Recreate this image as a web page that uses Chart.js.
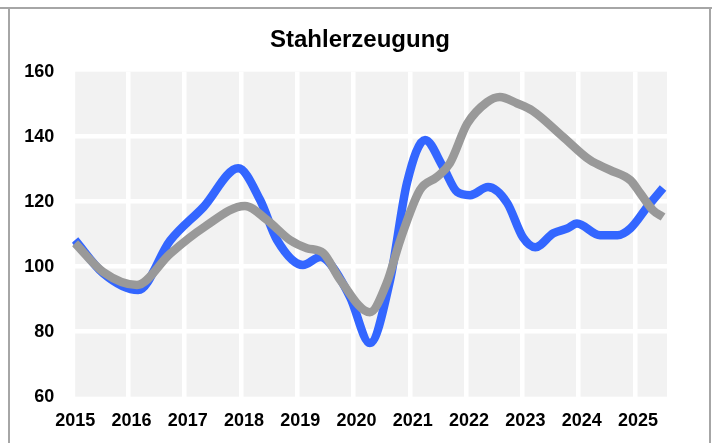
<!DOCTYPE html>
<html>
<head>
<meta charset="utf-8">
<script src="https://cdn.jsdelivr.net/npm/chart.js@4"></script>
<style>
  body { margin: 0; background: #fff; }
  #wrap { position: relative; width: 712px; height: 443px; overflow: hidden; }
  #chart { position: absolute; left: 0; top: 0; }
  .rule { position: absolute; background: #a6a6a6; }
</style>
</head>
<body>
<div id="wrap">
  <canvas id="chart" width="712" height="443"></canvas>
  <div class="rule" style="left:0;top:7px;width:712px;height:2px"></div>
  <div class="rule" style="left:8px;top:7px;width:2px;height:436px"></div>
  <div class="rule" style="left:709px;top:7px;width:2px;height:436px"></div>
</div>
<script>
const title = "Stahlerzeugung"
const yTicks = [60, 80, 100, 120, 140, 160]

const blueYears = [2015.05, 2015.55, 2016.17, 2016.74, 2017.33, 2017.95, 2018.34, 2018.64, 2019.10, 2019.41,
  2019.58, 2019.94, 2020.29, 2020.65, 2020.95, 2021.27, 2021.59, 2021.84, 2022.07, 2022.39,
  2022.73, 2023.01, 2023.23, 2023.55, 2023.80, 2023.97, 2024.38, 2024.69, 2024.92, 2025.22, 2025.50]
const blueValues = [108.2, 98, 92.8, 108, 118.3, 130.3, 120.5, 108.2, 100.5, 103,
  101, 90.6, 76.5, 96, 125.8, 139, 130.7, 123, 122, 124.5,
  119.6, 109, 106, 110.3, 111.8, 113.3, 109.7, 109.7, 111.8, 118.4, 124.2]

const grayYears = [2015.05, 2015.55, 2016.15, 2016.74, 2017.33, 2018.07, 2018.46, 2018.87, 2019.17, 2019.46,
  2019.76, 2020.29, 2020.59, 2020.83, 2021.18, 2021.48, 2021.71, 2022.02, 2022.37, 2022.60,
  2022.90, 2023.18, 2023.72, 2024.20, 2024.55, 2024.92, 2025.09, 2025.32, 2025.50]
const grayValues = [107.2, 98.4, 94.4, 104, 112, 118.7, 114.4, 108.2, 105.7, 104.2,
  96, 86, 95, 108.2, 123.6, 127.6, 131.8, 144, 150.6, 152.2,
  150.3, 148, 140, 132.8, 129.8, 126.6, 122.7, 117.4, 115.3]

const toPoints = (xs, ys) => xs.map((x, i) => ({x: x, y: ys[i]}))

// grey plot background, starts 3px right of the 2015 tick like in the original
const plotBg = {
  id: 'plotBg',
  beforeDraw(chart) {
    const a = chart.chartArea
    const ctx = chart.ctx
    ctx.save()
    ctx.fillStyle = '#f2f2f2'
    ctx.fillRect(a.left + 3, a.top, a.right - a.left - 3, a.bottom - a.top)
    ctx.restore()
  }
}

// title centred on the framed box, not on the chart area
const boxTitle = {
  id: 'boxTitle',
  afterDraw(chart) {
    const ctx = chart.ctx
    ctx.save()
    ctx.font = "bold 24px 'Liberation Sans', Arial, sans-serif"
    ctx.fillStyle = '#000'
    ctx.textAlign = 'center'
    ctx.textBaseline = 'middle'
    ctx.fillText(title, 360, 40)
    ctx.restore()
  }
}

const tickFont = { family: "'Liberation Sans', Arial, sans-serif", size: 18, weight: 'bold' }

new Chart(document.getElementById('chart'), {
  type: 'line',
  data: {
    datasets: [
      {
        label: 'blau',
        data: toPoints(blueYears, blueValues),
        borderColor: '#3366ff',
        borderWidth: 8.5,
        pointRadius: 0,
        cubicInterpolationMode: 'monotone',
        order: 2
      },
      {
        label: 'grau',
        data: toPoints(grayYears, grayValues),
        borderColor: '#999999',
        borderWidth: 8.5,
        pointRadius: 0,
        cubicInterpolationMode: 'monotone',
        order: 1
      }
    ]
  },
  options: {
    responsive: false,
    animation: false,
    layout: { padding: { top: 71.7, right: 45, left: 0, bottom: 0 } },
    plugins: {
      legend: { display: false },
      tooltip: { enabled: false },
      title: { display: false }
    },
    scales: {
      x: {
        type: 'linear',
        min: 2015,
        max: 2025.57,
        afterFit: s => { s.height = 46.3 },
        border: { display: false },
        grid: {
          drawTicks: false,
          lineWidth: 4.5,
          color: c => (c.tick && c.tick.value === 2015) ? 'rgba(0,0,0,0)' : '#ffffff'
        },
        ticks: {
          stepSize: 1,
          includeBounds: false,
          maxRotation: 0,
          autoSkip: false,
          padding: 14,
          labelOffset: 3,
          color: '#000',
          font: tickFont,
          callback: v => String(v)
        }
      },
      y: {
        min: yTicks[0],
        max: yTicks[yTicks.length - 1],
        afterFit: s => { s.width = 72.2 },
        border: { display: false },
        grid: {
          drawTicks: false,
          lineWidth: 4.5,
          color: c => (c.tick && (c.tick.value === 60 || c.tick.value === 160)) ? 'rgba(0,0,0,0)' : '#ffffff'
        },
        ticks: {
          stepSize: 20,
          padding: 18,
          color: '#000',
          font: tickFont
        }
      }
    }
  },
  plugins: [plotBg, boxTitle]
})
</script>
</body>
</html>
